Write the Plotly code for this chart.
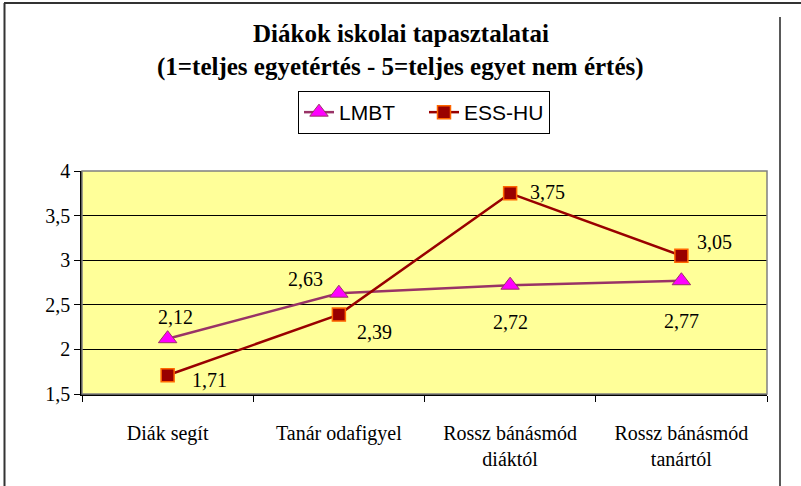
import plotly.graph_objects as go

categories = ["Diák segít", "Tanár odafigyel", "Rossz bánásmód<br>diáktól", "Rossz bánásmód<br>tanártól"]
lmbt = [2.12, 2.63, 2.72, 2.77]
ess_hu = [1.71, 2.39, 3.75, 3.05]
y_ticks = [1.5, 2, 2.5, 3, 3.5, 4]

# label offsets (pixels) for data labels
lmbt_off = [(8, 22), (-33, 14), (0, -37), (0, -40)]
ess_off = [(42, -5), (36, -17), (37, 1), (33, 14)]

serif = "Liberation Serif, Times New Roman, serif"
sans = "Liberation Sans, Arial, sans-serif"

fig = go.Figure()
fig.add_trace(go.Scatter(
    x=categories, y=lmbt, name="LMBT", mode="lines+markers",
    line=dict(color="#993366", width=2.5),
    marker=dict(symbol="triangle-up", size=16, color="#FF00FF", line=dict(color="#993366", width=1)),
))
fig.add_trace(go.Scatter(
    x=categories, y=ess_hu, name="ESS-HU", mode="lines+markers",
    line=dict(color="#990000", width=2.5),
    marker=dict(symbol="square", size=13, color="#990000", line=dict(color="#FF6600", width=1.5)),
))

def fmt(v):
    return f"{v:.2f}".replace(".", ",")

anns = []
for series, offs in ((lmbt, lmbt_off), (ess_hu, ess_off)):
    for c, v, (dx, dy) in zip(categories, series, offs):
        anns.append(dict(x=c, y=v, text=fmt(v), showarrow=False, xshift=dx, yshift=dy,
                         font=dict(family=serif, size=20, color="black")))

W, L, T, B = 685, 82, 171, 92
def px(x):
    return (x - L) / W
def py(y):
    return (394 - y) / 223

anns.append(dict(x=px(401), y=py(33), xref="paper", yref="paper", showarrow=False, yanchor="middle",
                 text="<b>Diákok iskolai tapasztalatai</b>", font=dict(family=serif, size=25, color="black")))
anns.append(dict(x=px(400), y=py(67), xref="paper", yref="paper", showarrow=False, yanchor="middle",
                 text="<b>(1=teljes egyetértés - 5=teljes egyet nem értés)</b>",
                 font=dict(family=serif, size=25, color="black")))

shapes = [
    dict(type="rect", xref="paper", yref="paper", x0=0, y0=0, x1=1, y1=1,
         line=dict(color="#808080", width=1.5), layer="above"),
    dict(type="line", xref="paper", yref="paper", x0=px(4), x1=px(801), y0=py(3), y1=py(3),
         line=dict(color="#333333", width=2)),
    dict(type="line", xref="paper", yref="paper", x0=px(4.5), x1=px(4.5), y0=py(3), y1=py(486),
         line=dict(color="#333333", width=2)),
    dict(type="line", xref="paper", yref="paper", x0=px(780), x1=px(780), y0=py(17), y1=py(486),
         line=dict(color="#222222", width=1.5)),
]

fig.update_layout(
    width=801, height=486,
    margin=dict(l=L, r=801 - L - W, t=T, b=B),
    paper_bgcolor="white", plot_bgcolor="#FFFF99",
    separators=",.",
    showlegend=True,
    legend=dict(orientation="h", x=px(424), xanchor="center", y=py(91), yanchor="top",
                bordercolor="black", borderwidth=1, bgcolor="white", entrywidth=80,
                font=dict(family=sans, size=21, color="black")),
    annotations=anns,
    shapes=shapes,
    xaxis=dict(type="category", showgrid=False, showline=True, linecolor="black", linewidth=1.5,
               ticks="outside", tickson="boundaries", ticklen=6, tickcolor="black",
               tickfont=dict(family=serif, size=20, color="black"), ticklabelstandoff=20,
               range=[-0.5, 3.5], fixedrange=True),
    yaxis=dict(range=[1.5, 4], tickvals=y_ticks, showgrid=True, gridcolor="black", gridwidth=1,
               showline=True, linecolor="black", linewidth=1.5, ticks="outside", ticklen=6,
               tickcolor="black", tickfont=dict(family=serif, size=20, color="black"),
               zeroline=False),
)

fig.write_html("out.html", config={"displayModeBar": False},
               post_script="document.body.style.margin='0';document.body.style.overflow='hidden';")
